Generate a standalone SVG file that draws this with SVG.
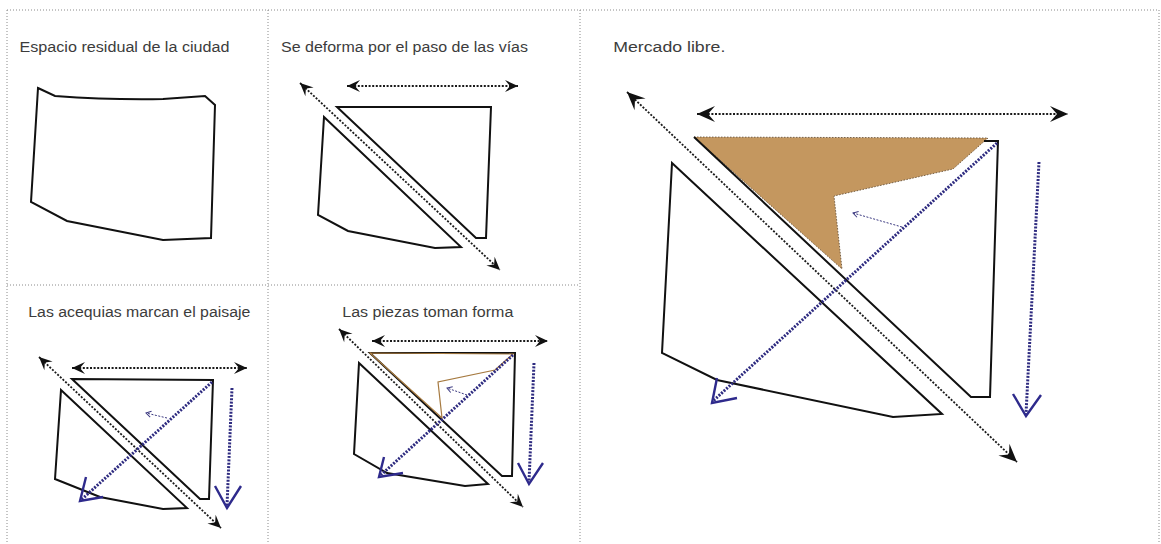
<svg xmlns="http://www.w3.org/2000/svg" width="1161" height="544" viewBox="0 0 1161 544">
<style>
.grid{stroke:#8a8a8a;stroke-width:1;stroke-dasharray:1 2;fill:none}
.shape{stroke:#111;stroke-width:2;fill:none;stroke-linejoin:miter}
.bd{stroke:#1a1a1a;stroke-width:1.8;stroke-dasharray:2 1.6;fill:none}
.blue{stroke:#2e2b80;stroke-width:3;stroke-dasharray:2 1.4;fill:none}
.chev{stroke:#2e2a8c;stroke-width:2.4;fill:none;stroke-linejoin:miter}
.thin{stroke:#3a3880;stroke-width:1;stroke-dasharray:2 1.5;fill:none}
.lbl{font-family:"Liberation Sans",Arial,sans-serif;font-size:14px;fill:#3c3c3c}
</style>
<defs>
<marker id="ah" viewBox="-14 -7 15 14" refX="0" refY="0" markerWidth="15" markerHeight="14" markerUnits="userSpaceOnUse" orient="auto-start-reverse">
<path d="M0,0 L-13,-6 L-8,0 L-13,6 Z" fill="#111"/>
</marker>
<marker id="ahL" viewBox="-19 -9 20 18" refX="0" refY="0" markerWidth="20" markerHeight="18" markerUnits="userSpaceOnUse" orient="auto-start-reverse">
<path d="M0,0 L-18,-8 L-11,0 L-18,8 Z" fill="#111"/>
</marker>
<marker id="sm" viewBox="-6 -4 7 8" refX="0" refY="0" markerWidth="7" markerHeight="8" markerUnits="userSpaceOnUse" orient="auto">
<path d="M-5,-3 L0,0 L-5,3" fill="none" stroke="#3a3880" stroke-width="1"/>
</marker>
</defs>

<g id="grid">
<line class="grid" x1="7" y1="10" x2="1159" y2="10"/>
<line class="grid" x1="7" y1="10" x2="7" y2="544"/>
<line class="grid" x1="268" y1="10" x2="268" y2="544"/>
<line class="grid" x1="580" y1="10" x2="580" y2="544"/>
<line class="grid" x1="1159" y1="10" x2="1159" y2="544"/>
<line class="grid" x1="7" y1="285" x2="580" y2="285"/>
</g>

<g id="panel1">
<text class="lbl" x="19.5" y="51.5" textLength="210" lengthAdjust="spacingAndGlyphs">Espacio residual de la ciudad</text>
<path class="shape" stroke-width="2.2" d="M38,88 L55,96 Q110,100 163,99 L205,96 L215,105 L211,238 L163,240 L67,221 L31,202 Z"/>
</g>

<g id="panel2">
<text class="lbl" x="281" y="51.5" textLength="247" lengthAdjust="spacingAndGlyphs">Se deforma por el paso de las vías</text>
<path class="shape" d="M337,107 L491,107 L486,238 L476,238 Z"/>
<path class="shape" d="M324,117 L461,247 L435,248 L348,231 L318,215 Z"/>
</g>

<g id="panel3">
<text class="lbl" x="28.3" y="317" textLength="222" lengthAdjust="spacingAndGlyphs">Las acequias marcan el paisaje</text>
<path class="shape" d="M72,379 L213,380 L209,499 L200,499 Z"/>
<path class="shape" d="M61,390 L187,508 L163,509 L100,497 L55,479 Z"/>
</g>

<g id="panel4">
<text class="lbl" x="342.3" y="317" textLength="171" lengthAdjust="spacingAndGlyphs">Las piezas toman forma</text>
<path class="shape" d="M370,353 L515,353 L512,476 L502,476 Z"/>
<path class="shape" d="M359,363 L488,484 L465,486 L387,473 L354,454 Z"/>
<path d="M370,353 L513,354 L495,370 L438,382 L442,418 Z" fill="none" stroke="#a67a40" stroke-width="1.2"/>
</g>

<g id="panel5">
<text class="lbl" x="613.3" y="51.5" font-size="14.5" textLength="112" lengthAdjust="spacingAndGlyphs">Mercado libre.</text>
<path d="M694,137 L988,138 L953,169 L834,196 L842,269 Z" fill="#c4975f" stroke="#5a4630" stroke-width="0.8" stroke-dasharray="1.5 1.5"/>
<path class="shape" stroke-width="1.8" d="M984,141 L998,141 L990,397 L971,397 L694,137"/>
<path class="shape" stroke-width="1.8" d="M672,163 L942,414 L893,417 L717,380 L662,353 Z"/>
</g>

<g id="connectors">
<line class="bd" x1="347" y1="86" x2="518" y2="86" marker-start="url(#ah)" marker-end="url(#ah)"/>
<line class="bd" x1="300" y1="83" x2="500" y2="270" marker-start="url(#ah)" marker-end="url(#ah)"/>

<line class="bd" x1="72" y1="368" x2="247" y2="368" marker-start="url(#ah)" marker-end="url(#ah)"/>
<line class="bd" x1="39" y1="357" x2="221" y2="528" marker-start="url(#ah)" marker-end="url(#ah)"/>
<line class="blue" x1="212" y1="382" x2="81" y2="500"/>
<polyline class="chev" points="86,477 80,501 103,497"/>
<line class="blue" x1="232" y1="388" x2="227" y2="506"/>
<polyline class="chev" points="215,486 227,508 241,486"/>
<line class="thin" x1="167" y1="418" x2="146" y2="413" marker-end="url(#sm)"/>

<line class="bd" x1="372" y1="341" x2="548" y2="341" marker-start="url(#ah)" marker-end="url(#ah)"/>
<line class="bd" x1="339" y1="329" x2="523" y2="507" marker-start="url(#ah)" marker-end="url(#ah)"/>
<line class="blue" x1="513" y1="355" x2="381" y2="475"/>
<polyline class="chev" points="384,457 379,477 403,473"/>
<line class="blue" x1="534" y1="363" x2="529" y2="482"/>
<polyline class="chev" points="518,463 529,484 543,463"/>
<line class="thin" x1="467" y1="395" x2="447" y2="388" marker-end="url(#sm)"/>

<line class="bd" x1="697" y1="114" x2="1068" y2="114" marker-start="url(#ahL)" marker-end="url(#ahL)"/>
<line class="bd" x1="627" y1="92" x2="1017" y2="462" marker-start="url(#ahL)" marker-end="url(#ahL)"/>
<line class="blue" stroke-width="2.6" x1="997" y1="143" x2="713" y2="401"/>
<polyline class="chev" stroke-width="2.8" points="717,378 712,403 737,398"/>
<line class="blue" x1="1039" y1="162" x2="1026" y2="414"/>
<polyline class="chev" stroke-width="2.8" points="1013,394 1026,416 1041,395"/>
<line class="thin" x1="902" y1="227" x2="853" y2="213" marker-end="url(#sm)"/>
</g>
</svg>
